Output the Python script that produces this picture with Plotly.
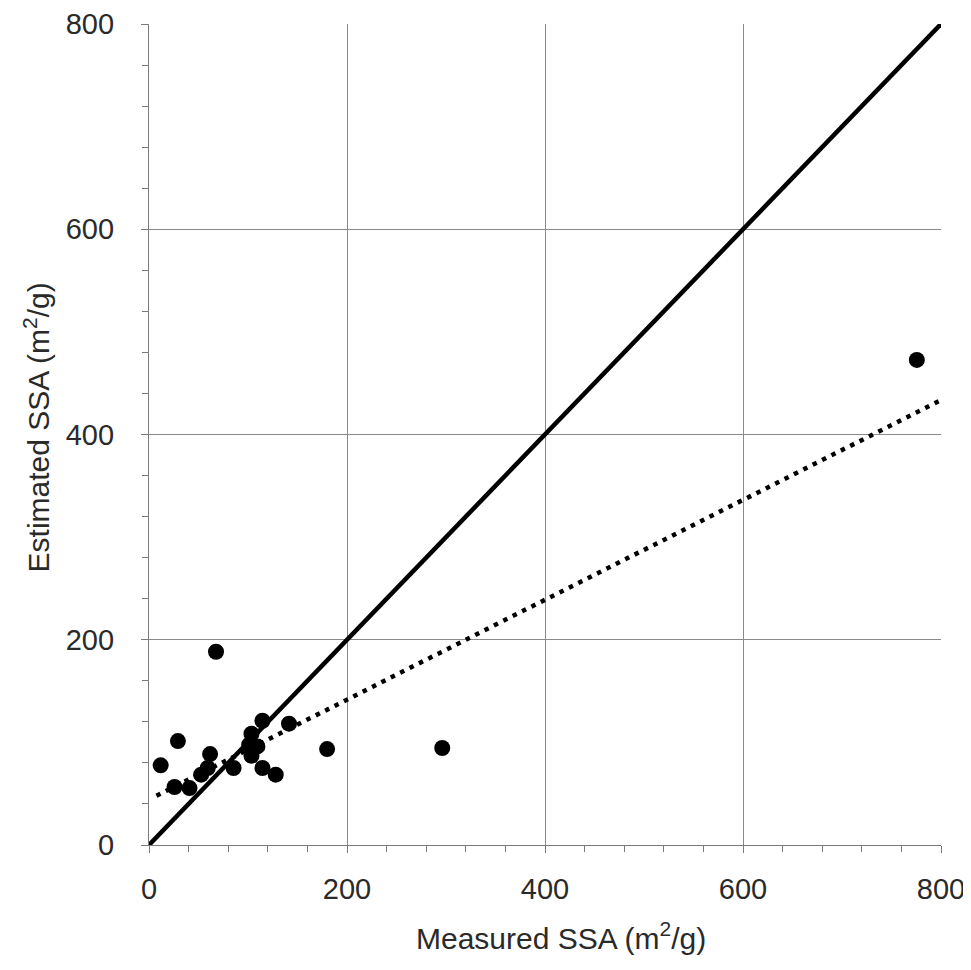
import plotly.graph_objects as go

# Measured vs estimated SSA (m2/g)
measured = [11.8, 29.2, 67.7, 25.8, 40.9, 52.7, 59.3, 61.7, 85.4, 103.5, 109.5,
            101.2, 103.5, 114.6, 114.6, 128.0, 141.4, 179.9, 296.2, 775.6]
estimated = [77.6, 101.3, 188.3, 56.5, 55.5, 68.5, 75.0, 88.6, 75.0, 108.4, 96.1,
             97.7, 87.0, 121.1, 75.0, 68.5, 118.2, 93.5, 94.5, 472.7]

# 1:1 line and linear trend line
one_to_one_x = [0, 800]
one_to_one_y = [0, 800]
trend_x = [7.5, 800]
trend_y = [48.0, 433.5]

tick_vals = [0, 200, 400, 600, 800]
tick_text = ["0", "200", "400", "600", "800"]

x_title = "Measured SSA (m<sup>2</sup>/g)"
y_title = "Estimated SSA (m<sup>2</sup>/g)"

FONT = "Liberation Sans, Arial"
TXT = "#2a2a2a"

fig = go.Figure()
fig.add_trace(go.Scatter(x=one_to_one_x, y=one_to_one_y, mode="lines",
                         line=dict(color="black", width=4.5), showlegend=False))
fig.add_trace(go.Scatter(x=trend_x, y=trend_y, mode="lines",
                         line=dict(color="black", width=4.5, dash="4.5px,6px"),
                         showlegend=False))
fig.add_trace(go.Scatter(x=measured, y=estimated, mode="markers",
                         marker=dict(color="black", size=16), showlegend=False))

axis_common = dict(
    range=[0, 800], tickvals=tick_vals, ticktext=tick_text,
    showgrid=True, gridcolor="#8a8a8a", gridwidth=1,
    showline=True, linecolor="#7a7a7a", linewidth=1.2,
    ticks="outside", ticklen=7, tickcolor="#7a7a7a", tickwidth=1.2,
    tickfont=dict(family=FONT, size=29, color=TXT),
    zeroline=False, mirror=False, automargin=False,
    ticklabeloverflow="allow",
    minor=dict(dtick=40, tick0=0, ticks="outside", ticklen=6, tickcolor="#7a7a7a",
               tickwidth=1.2, showgrid=False),
)

fig.update_xaxes(**axis_common, ticklabelstandoff=11)
fig.update_yaxes(**axis_common, ticklabelstandoff=21)

fig.add_annotation(text=x_title, xref="paper", yref="paper",
                   x=0.5196, y=-0.1108, xanchor="center", yanchor="middle",
                   showarrow=False, font=dict(family=FONT, size=30, color=TXT))
fig.add_annotation(text=y_title, xref="paper", yref="paper", textangle=-90,
                   x=-0.142, y=0.508, xanchor="center", yanchor="middle",
                   showarrow=False, font=dict(family=FONT, size=30, color=TXT))

fig.update_layout(
    width=963, height=962,
    margin=dict(l=141, r=30, t=16, b=125),
    plot_bgcolor="white", paper_bgcolor="white",
)
fig.write_html("out.html")
